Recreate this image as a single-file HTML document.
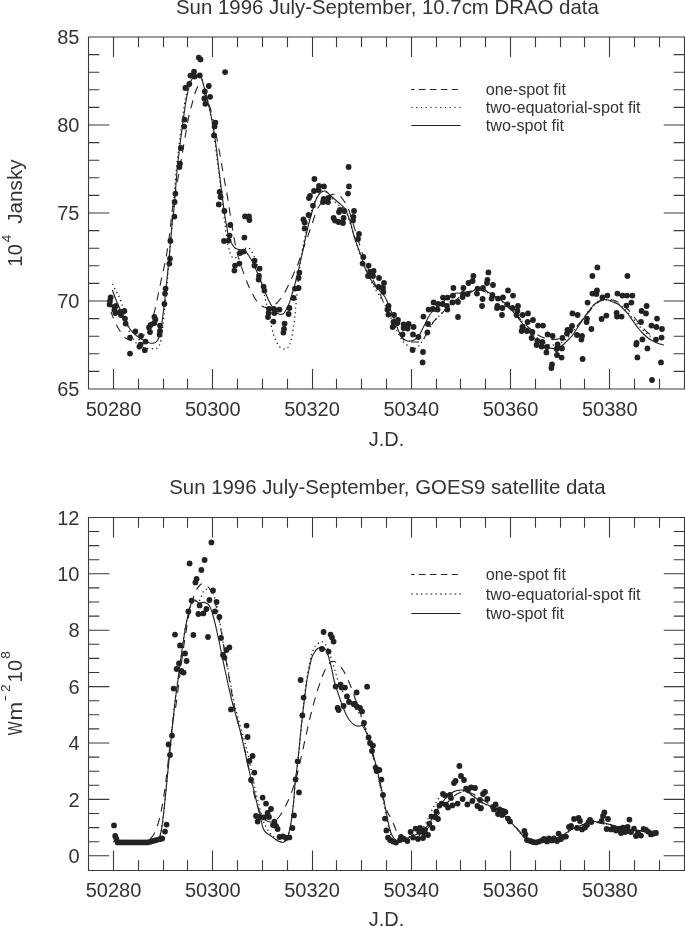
<!DOCTYPE html>
<html><head><meta charset="utf-8"><title>Sun 1996</title>
<style>
html,body{margin:0;padding:0;background:#fff}
#c{position:relative;width:685px;height:926px;overflow:hidden;background:#fff;font-family:"Liberation Sans",sans-serif;color:#333;filter:grayscale(1)}
</style></head><body><div id="c">
<svg width="685" height="926" viewBox="0 0 685 926" style="position:absolute;left:0;top:0">
<g stroke="#3a3a3a" stroke-width="1.1" fill="none" shape-rendering="auto">
<path d="M88.5 37.0H684.5V389.0H88.5Z"/>
<path d="M113.5 37.0v20.0M113.5 389.0v-20.0"/>
<path d="M138.5 37.0v10.2M138.5 389.0v-10.2"/>
<path d="M163.5 37.0v10.2M163.5 389.0v-10.2"/>
<path d="M187.5 37.0v10.2M187.5 389.0v-10.2"/>
<path d="M212.5 37.0v20.0M212.5 389.0v-20.0"/>
<path d="M237.5 37.0v10.2M237.5 389.0v-10.2"/>
<path d="M262.5 37.0v10.2M262.5 389.0v-10.2"/>
<path d="M287.5 37.0v10.2M287.5 389.0v-10.2"/>
<path d="M312.5 37.0v20.0M312.5 389.0v-20.0"/>
<path d="M336.5 37.0v10.2M336.5 389.0v-10.2"/>
<path d="M361.5 37.0v10.2M361.5 389.0v-10.2"/>
<path d="M386.5 37.0v10.2M386.5 389.0v-10.2"/>
<path d="M411.5 37.0v20.0M411.5 389.0v-20.0"/>
<path d="M436.5 37.0v10.2M436.5 389.0v-10.2"/>
<path d="M460.5 37.0v10.2M460.5 389.0v-10.2"/>
<path d="M485.5 37.0v10.2M485.5 389.0v-10.2"/>
<path d="M510.5 37.0v20.0M510.5 389.0v-20.0"/>
<path d="M535.5 37.0v10.2M535.5 389.0v-10.2"/>
<path d="M560.5 37.0v10.2M560.5 389.0v-10.2"/>
<path d="M584.5 37.0v10.2M584.5 389.0v-10.2"/>
<path d="M609.5 37.0v20.0M609.5 389.0v-20.0"/>
<path d="M634.5 37.0v10.2M634.5 389.0v-10.2"/>
<path d="M659.5 37.0v10.2M659.5 389.0v-10.2"/>
<path d="M88.5 371.4h10.8M684.5 371.4h-10.8"/>
<path d="M88.5 353.8h10.8M684.5 353.8h-10.8"/>
<path d="M88.5 336.2h10.8M684.5 336.2h-10.8"/>
<path d="M88.5 318.6h10.8M684.5 318.6h-10.8"/>
<path d="M88.5 283.4h10.8M684.5 283.4h-10.8"/>
<path d="M88.5 265.8h10.8M684.5 265.8h-10.8"/>
<path d="M88.5 248.2h10.8M684.5 248.2h-10.8"/>
<path d="M88.5 230.6h10.8M684.5 230.6h-10.8"/>
<path d="M88.5 195.4h10.8M684.5 195.4h-10.8"/>
<path d="M88.5 177.8h10.8M684.5 177.8h-10.8"/>
<path d="M88.5 160.2h10.8M684.5 160.2h-10.8"/>
<path d="M88.5 142.6h10.8M684.5 142.6h-10.8"/>
<path d="M88.5 107.4h10.8M684.5 107.4h-10.8"/>
<path d="M88.5 89.8h10.8M684.5 89.8h-10.8"/>
<path d="M88.5 72.2h10.8M684.5 72.2h-10.8"/>
<path d="M88.5 54.6h10.8M684.5 54.6h-10.8"/>
<path d="M88.5 301.0h20.8M684.5 301.0h-20.8"/>
<path d="M88.5 213.0h20.8M684.5 213.0h-20.8"/>
<path d="M88.5 125.0h20.8M684.5 125.0h-20.8"/>
</g>
<g stroke="#3a3a3a" stroke-width="1.1" fill="none" shape-rendering="auto">
<path d="M88.5 517.5H684.5V870.5H88.5Z"/>
<path d="M113.5 517.5v20.0M113.5 870.5v-20.0"/>
<path d="M138.5 517.5v10.2M138.5 870.5v-10.2"/>
<path d="M163.5 517.5v10.2M163.5 870.5v-10.2"/>
<path d="M187.5 517.5v10.2M187.5 870.5v-10.2"/>
<path d="M212.5 517.5v20.0M212.5 870.5v-20.0"/>
<path d="M237.5 517.5v10.2M237.5 870.5v-10.2"/>
<path d="M262.5 517.5v10.2M262.5 870.5v-10.2"/>
<path d="M287.5 517.5v10.2M287.5 870.5v-10.2"/>
<path d="M312.5 517.5v20.0M312.5 870.5v-20.0"/>
<path d="M336.5 517.5v10.2M336.5 870.5v-10.2"/>
<path d="M361.5 517.5v10.2M361.5 870.5v-10.2"/>
<path d="M386.5 517.5v10.2M386.5 870.5v-10.2"/>
<path d="M411.5 517.5v20.0M411.5 870.5v-20.0"/>
<path d="M436.5 517.5v10.2M436.5 870.5v-10.2"/>
<path d="M460.5 517.5v10.2M460.5 870.5v-10.2"/>
<path d="M485.5 517.5v10.2M485.5 870.5v-10.2"/>
<path d="M510.5 517.5v20.0M510.5 870.5v-20.0"/>
<path d="M535.5 517.5v10.2M535.5 870.5v-10.2"/>
<path d="M560.5 517.5v10.2M560.5 870.5v-10.2"/>
<path d="M584.5 517.5v10.2M584.5 870.5v-10.2"/>
<path d="M609.5 517.5v20.0M609.5 870.5v-20.0"/>
<path d="M634.5 517.5v10.2M634.5 870.5v-10.2"/>
<path d="M659.5 517.5v10.2M659.5 870.5v-10.2"/>
<path d="M88.5 841.7h10.8M684.5 841.7h-10.8"/>
<path d="M88.5 827.6h10.8M684.5 827.6h-10.8"/>
<path d="M88.5 813.5h10.8M684.5 813.5h-10.8"/>
<path d="M88.5 785.3h10.8M684.5 785.3h-10.8"/>
<path d="M88.5 771.2h10.8M684.5 771.2h-10.8"/>
<path d="M88.5 757.1h10.8M684.5 757.1h-10.8"/>
<path d="M88.5 728.9h10.8M684.5 728.9h-10.8"/>
<path d="M88.5 714.8h10.8M684.5 714.8h-10.8"/>
<path d="M88.5 700.7h10.8M684.5 700.7h-10.8"/>
<path d="M88.5 672.5h10.8M684.5 672.5h-10.8"/>
<path d="M88.5 658.4h10.8M684.5 658.4h-10.8"/>
<path d="M88.5 644.3h10.8M684.5 644.3h-10.8"/>
<path d="M88.5 616.1h10.8M684.5 616.1h-10.8"/>
<path d="M88.5 602.0h10.8M684.5 602.0h-10.8"/>
<path d="M88.5 587.9h10.8M684.5 587.9h-10.8"/>
<path d="M88.5 559.7h10.8M684.5 559.7h-10.8"/>
<path d="M88.5 545.6h10.8M684.5 545.6h-10.8"/>
<path d="M88.5 531.5h10.8M684.5 531.5h-10.8"/>
<path d="M88.5 855.8h20.8M684.5 855.8h-20.8"/>
<path d="M88.5 799.4h20.8M684.5 799.4h-20.8"/>
<path d="M88.5 743.0h20.8M684.5 743.0h-20.8"/>
<path d="M88.5 686.6h20.8M684.5 686.6h-20.8"/>
<path d="M88.5 630.2h20.8M684.5 630.2h-20.8"/>
<path d="M88.5 573.8h20.8M684.5 573.8h-20.8"/>
</g>
<g fill="none" stroke="#222" stroke-width="1.1" stroke-linecap="butt">
<path d="M112.4 284.0C113.0 285.2 114.7 288.5 116.0 291.0C117.3 293.5 118.7 295.7 120.0 299.0C121.3 302.3 122.8 307.2 124.0 311.0C125.2 314.8 126.0 318.3 127.0 322.0C128.0 325.7 128.8 330.0 130.0 333.0C131.2 336.0 132.7 338.0 134.0 340.0C135.3 342.0 136.5 343.8 138.0 345.0C139.5 346.2 141.0 346.9 143.0 347.5C145.0 348.1 147.8 348.4 150.0 348.6C152.2 348.8 154.5 348.9 156.0 348.5C157.5 348.1 158.2 347.4 159.0 346.0C159.8 344.6 160.3 343.5 161.0 340.0C161.7 336.5 162.3 330.8 163.0 325.0C163.7 319.2 164.3 311.7 165.0 305.0C165.7 298.3 166.3 292.2 167.0 285.0C167.7 277.8 168.3 269.8 169.0 262.0C169.7 254.2 170.3 246.3 171.0 238.0C171.7 229.7 172.1 223.7 173.0 212.0C173.9 200.3 175.1 182.3 176.5 168.0C177.9 153.7 180.0 137.7 181.5 126.0C183.0 114.3 184.3 105.0 185.6 98.0C186.8 91.0 187.8 87.5 189.0 84.0C190.2 80.5 191.3 78.5 192.5 77.0C193.7 75.5 194.8 75.2 196.0 75.0C197.2 74.8 198.8 74.7 200.0 76.0C201.2 77.3 202.0 79.8 203.0 83.0C204.0 86.2 204.5 88.5 206.0 95.0C207.5 101.5 210.0 110.2 212.0 122.0C214.0 133.8 216.3 153.3 218.0 166.0C219.7 178.7 220.8 188.3 222.0 198.0C223.2 207.7 224.0 216.2 225.0 224.0C226.0 231.8 226.8 239.5 228.0 245.0C229.2 250.5 230.7 254.9 232.0 257.0C233.3 259.1 234.7 258.2 236.0 257.5C237.3 256.8 238.7 254.4 240.0 253.0C241.3 251.6 242.7 249.8 244.0 249.0C245.3 248.2 246.8 247.8 248.0 248.0C249.2 248.2 250.0 248.7 251.0 250.0C252.0 251.3 253.0 253.7 254.0 256.0C255.0 258.3 256.0 260.7 257.0 264.0C258.0 267.3 259.0 272.0 260.0 276.0C261.0 280.0 262.0 283.7 263.0 288.0C264.0 292.3 264.8 296.7 266.0 302.0C267.2 307.3 268.7 314.3 270.0 320.0C271.3 325.7 272.5 331.7 274.0 336.0C275.5 340.3 277.2 343.8 279.0 346.0C280.8 348.2 283.2 349.3 285.0 349.0C286.8 348.7 288.5 348.2 290.0 344.0C291.5 339.8 293.0 330.7 294.0 324.0C295.0 317.3 295.3 311.0 296.0 304.0C296.7 297.0 297.2 289.7 298.0 282.0C298.8 274.3 300.0 264.7 301.0 258.0C302.0 251.3 303.0 247.0 304.0 242.0C305.0 237.0 305.5 234.0 307.0 228.0C308.5 222.0 311.0 211.7 313.0 206.0C315.0 200.3 317.2 196.5 319.0 194.0C320.8 191.5 322.3 190.8 324.0 191.0C325.7 191.2 326.8 192.8 329.0 195.0C331.2 197.2 334.3 201.5 337.0 204.0C339.7 206.5 342.7 206.3 345.0 210.0C347.3 213.7 349.0 220.0 351.0 226.0C353.0 232.0 355.2 240.3 357.0 246.0C358.8 251.7 360.3 255.7 362.0 260.0C363.7 264.3 365.3 268.2 367.0 272.0C368.7 275.8 370.3 279.7 372.0 283.0C373.7 286.3 375.3 289.2 377.0 292.0C378.7 294.8 380.3 297.2 382.0 300.0C383.7 302.8 385.3 305.7 387.0 309.0C388.7 312.3 390.3 316.3 392.0 320.0C393.7 323.7 395.3 327.7 397.0 331.0C398.7 334.3 400.3 337.7 402.0 340.0C403.7 342.3 405.3 343.7 407.0 345.0C408.7 346.3 410.5 347.5 412.0 348.0C413.5 348.5 414.7 348.6 416.0 348.0C417.3 347.4 418.7 346.1 420.0 344.5C421.3 342.9 422.7 340.7 424.0 338.5C425.3 336.3 426.7 333.9 428.0 331.5C429.3 329.1 430.7 326.1 432.0 324.0C433.3 321.9 434.7 320.5 436.0 319.0C437.3 317.5 438.5 316.5 440.0 315.0C441.5 313.5 443.3 311.7 445.0 310.0C446.7 308.3 448.3 306.6 450.0 305.0C451.7 303.4 453.3 301.8 455.0 300.5C456.7 299.2 458.3 298.1 460.0 297.0C461.7 295.9 463.3 294.8 465.0 294.0C466.7 293.2 468.3 292.7 470.0 292.0C471.7 291.3 473.3 290.3 475.0 290.0C476.7 289.7 478.3 289.8 480.0 290.0C481.7 290.2 483.3 290.8 485.0 291.5C486.7 292.2 488.3 293.1 490.0 294.0C491.7 294.9 493.3 296.0 495.0 297.0C496.7 298.0 498.3 298.8 500.0 300.0C501.7 301.2 503.3 302.7 505.0 304.0C506.7 305.3 508.3 306.5 510.0 308.0C511.7 309.5 513.3 311.2 515.0 313.0C516.7 314.8 518.3 317.0 520.0 319.0C521.7 321.0 523.3 323.0 525.0 325.0C526.7 327.0 528.3 329.2 530.0 331.0C531.7 332.8 533.3 334.5 535.0 336.0C536.7 337.5 538.3 338.8 540.0 340.0C541.7 341.2 543.3 342.2 545.0 343.0C546.7 343.8 548.3 344.7 550.0 345.0C551.7 345.3 553.3 345.2 555.0 345.0C556.7 344.8 558.3 344.3 560.0 343.5C561.7 342.7 563.3 341.4 565.0 340.0C566.7 338.6 568.3 336.8 570.0 335.0C571.7 333.2 573.3 331.0 575.0 329.0C576.7 327.0 578.3 325.2 580.0 323.0C581.7 320.8 583.3 318.3 585.0 316.0C586.7 313.7 588.3 311.0 590.0 309.0C591.7 307.0 593.3 305.3 595.0 304.0C596.7 302.7 598.3 301.7 600.0 301.0C601.7 300.3 603.3 300.1 605.0 300.0C606.7 299.9 608.3 300.2 610.0 300.5C611.7 300.8 613.3 301.2 615.0 302.0C616.7 302.8 618.3 303.8 620.0 305.0C621.7 306.2 623.3 307.3 625.0 309.0C626.7 310.7 628.3 313.0 630.0 315.0C631.7 317.0 633.3 319.0 635.0 321.0C636.7 323.0 638.3 325.2 640.0 327.0C641.7 328.8 643.3 330.5 645.0 332.0C646.7 333.5 648.3 334.8 650.0 336.0C651.7 337.2 654.2 338.5 655.0 339.0" stroke-dasharray="1.3 3.2" stroke-width="1.25"/>
<path class="dash" d="M111.0 312.0C111.7 313.7 113.5 318.8 115.0 322.0C116.5 325.2 118.3 328.4 120.0 331.0C121.7 333.6 123.3 336.1 125.0 337.6C126.7 339.1 128.3 339.6 130.0 340.2C131.7 340.8 133.3 341.2 135.0 341.0C136.7 340.8 138.3 340.2 140.0 339.0C141.7 337.8 143.3 336.2 145.0 334.0C146.7 331.8 148.7 328.8 150.0 326.0C151.3 323.2 152.0 320.5 153.0 317.0C154.0 313.5 155.1 309.0 156.0 305.0C156.9 301.0 157.7 297.0 158.5 293.0C159.3 289.0 160.2 284.8 161.0 281.0C161.8 277.2 162.7 273.8 163.5 270.0C164.3 266.2 165.2 262.2 166.0 258.0C166.8 253.8 167.3 249.5 168.0 245.0C168.7 240.5 169.2 237.7 170.0 231.0C170.8 224.3 171.4 215.2 173.0 205.0C174.6 194.8 177.6 180.6 179.5 170.0C181.4 159.4 182.8 150.3 184.3 141.7C185.8 133.1 187.1 124.6 188.4 118.4C189.7 112.2 190.8 108.5 191.9 104.4C193.0 100.3 193.8 96.9 194.8 93.9C195.8 90.9 197.0 87.4 198.0 86.5C199.0 85.6 199.8 87.1 201.0 88.5C202.2 89.9 203.8 92.8 205.0 95.0C206.2 97.2 207.0 99.3 208.0 102.0C209.0 104.7 209.9 106.7 211.1 111.4C212.3 116.1 213.8 123.4 215.2 130.0C216.6 136.6 218.2 145.3 219.3 151.0C220.4 156.7 220.8 159.5 221.6 164.0C222.4 168.5 222.9 172.0 224.0 178.0C225.1 184.0 226.7 192.0 228.0 200.0C229.3 208.0 230.7 218.0 232.0 226.0C233.3 234.0 234.7 241.9 236.0 248.0C237.3 254.1 238.7 258.2 240.0 262.5C241.3 266.8 242.7 270.3 244.0 274.0C245.3 277.7 246.7 281.3 248.0 284.5C249.3 287.7 250.7 290.4 252.0 293.0C253.3 295.6 254.7 298.1 256.0 300.0C257.3 301.9 258.7 303.3 260.0 304.5C261.3 305.7 262.7 306.5 264.0 307.0C265.3 307.5 266.7 307.7 268.0 307.5C269.3 307.3 270.5 306.8 272.0 306.0C273.5 305.2 275.5 304.3 277.0 303.0C278.5 301.7 279.7 299.8 281.0 298.0C282.3 296.2 283.5 294.7 285.0 292.0C286.5 289.3 288.4 285.3 290.0 282.0C291.6 278.7 293.1 275.0 294.4 272.0C295.7 269.0 296.7 267.3 298.0 264.0C299.3 260.7 300.5 256.2 302.0 252.0C303.5 247.8 305.3 243.2 307.0 238.5C308.7 233.8 310.3 228.8 312.0 224.0C313.7 219.2 315.3 213.7 317.0 210.0C318.7 206.3 320.3 204.2 322.0 202.0C323.7 199.8 325.3 198.2 327.0 197.0C328.7 195.8 330.5 195.0 332.0 194.5C333.5 194.0 334.7 193.8 336.0 194.0C337.3 194.2 338.7 194.8 340.0 196.0C341.3 197.2 342.7 199.0 344.0 201.0C345.3 203.0 346.7 204.8 348.0 208.0C349.3 211.2 350.7 215.8 352.0 220.0C353.3 224.2 354.7 228.7 356.0 233.0C357.3 237.3 358.5 241.3 360.0 246.0C361.5 250.7 363.3 256.5 365.0 261.0C366.7 265.5 368.3 269.2 370.0 273.0C371.7 276.8 373.3 280.5 375.0 284.0C376.7 287.5 378.7 291.2 380.0 294.0C381.3 296.8 382.0 298.9 383.0 301.0C384.0 303.1 384.6 304.0 385.8 306.5C387.0 309.0 388.5 312.8 390.0 316.0C391.5 319.2 393.3 322.8 395.0 326.0C396.7 329.2 398.5 332.7 400.0 335.0C401.5 337.3 402.7 338.9 404.0 340.0C405.3 341.1 406.7 341.3 408.0 341.6C409.3 341.9 410.7 341.9 412.0 342.0C413.3 342.1 414.8 342.0 416.0 342.0C417.2 342.0 418.1 342.2 419.0 342.0C419.9 341.8 420.6 341.9 421.6 341.0C422.6 340.1 423.9 338.1 425.0 336.5C426.1 334.9 426.8 333.7 428.2 331.3C429.6 328.9 431.6 324.4 433.3 322.0C435.0 319.6 436.6 318.6 438.4 316.7C440.2 314.8 442.0 313.1 444.2 310.9C446.4 308.7 449.1 305.8 451.5 303.6C453.9 301.4 456.9 299.2 458.8 297.7C460.7 296.2 461.5 295.4 463.0 294.5C464.5 293.6 466.3 292.7 468.0 292.0C469.7 291.3 471.3 290.8 473.0 290.5C474.7 290.2 476.3 289.9 478.0 290.0C479.7 290.1 481.3 290.5 483.0 291.0C484.7 291.5 486.3 292.2 488.0 293.0C489.7 293.8 491.3 295.0 493.0 296.0C494.7 297.0 496.3 297.8 498.0 299.0C499.7 300.2 501.3 301.7 503.0 303.0C504.7 304.3 506.3 305.5 508.0 307.0C509.7 308.5 511.3 310.3 513.0 312.0C514.7 313.7 516.3 315.3 518.0 317.0C519.7 318.7 521.3 320.3 523.0 322.0C524.7 323.7 526.3 325.5 528.0 327.0C529.7 328.5 531.3 329.7 533.0 331.0C534.7 332.3 536.3 333.9 538.0 335.0C539.7 336.1 541.3 336.8 543.0 337.5C544.7 338.2 546.3 338.7 548.0 339.0C549.7 339.3 551.3 339.5 553.0 339.5C554.7 339.5 556.3 339.4 558.0 339.0C559.7 338.6 561.3 337.8 563.0 337.0C564.7 336.2 566.3 335.2 568.0 334.0C569.7 332.8 571.3 331.5 573.0 330.0C574.7 328.5 576.3 326.8 578.0 325.0C579.7 323.2 581.3 321.0 583.0 319.0C584.7 317.0 586.3 315.0 588.0 313.0C589.7 311.0 591.3 308.8 593.0 307.0C594.7 305.2 596.3 303.7 598.0 302.5C599.7 301.3 601.3 300.6 603.0 300.0C604.7 299.4 606.3 299.0 608.0 299.0C609.7 299.0 611.3 299.5 613.0 300.0C614.7 300.5 616.3 301.2 618.0 302.0C619.7 302.8 621.3 303.8 623.0 305.0C624.7 306.2 626.3 307.8 628.0 309.5C629.7 311.2 631.3 313.4 633.0 315.5C634.7 317.6 636.3 319.9 638.0 322.0C639.7 324.1 641.3 326.2 643.0 328.0C644.7 329.8 646.3 331.7 648.0 333.0C649.7 334.3 652.2 335.5 653.0 336.0" stroke-dasharray="8.2 6.8" stroke-dashoffset="1.35"/>
<path d="M112.4 290.0C113.0 291.7 114.7 296.8 116.0 300.0C117.3 303.2 118.5 305.7 120.0 309.0C121.5 312.3 123.3 316.7 125.0 320.0C126.7 323.3 128.3 326.6 130.0 329.0C131.7 331.4 133.3 333.0 135.0 334.5C136.7 336.0 138.3 336.9 140.0 338.0C141.7 339.1 143.3 340.2 145.0 341.0C146.7 341.8 148.5 342.7 150.0 343.0C151.5 343.3 152.8 343.3 154.0 343.0C155.2 342.7 156.2 342.0 157.0 341.0C157.8 340.0 158.3 339.2 159.0 337.0C159.7 334.8 160.3 331.7 161.0 328.0C161.7 324.3 162.2 321.5 163.0 315.0C163.8 308.5 165.0 298.3 166.0 289.0C167.0 279.7 168.0 269.7 169.0 259.0C170.0 248.3 171.1 234.0 172.0 225.0C172.9 216.0 173.5 214.5 174.4 205.0C175.3 195.5 176.0 181.3 177.3 168.0C178.7 154.7 180.9 137.2 182.5 125.4C184.1 113.6 185.3 104.4 186.6 97.4C187.9 90.4 189.0 86.7 190.1 83.4C191.2 80.1 191.9 78.9 193.0 77.5C194.1 76.1 195.5 75.6 196.5 75.2C197.5 74.8 198.2 74.9 199.0 75.2C199.8 75.5 200.2 74.5 201.2 76.8C202.1 79.1 203.4 84.4 204.7 89.2C206.0 94.0 207.4 99.5 208.8 105.5C210.2 111.5 211.7 119.0 212.9 125.4C214.1 131.8 214.8 136.9 215.8 144.0C216.8 151.1 217.3 157.0 218.7 168.0C220.1 179.0 222.6 200.0 224.0 210.0C225.4 220.0 226.2 223.3 227.0 228.0C227.8 232.7 228.2 235.3 229.0 238.0C229.8 240.7 231.0 242.3 232.0 244.0C233.0 245.7 233.8 247.1 235.0 248.0C236.2 248.9 237.7 249.2 239.0 249.5C240.3 249.8 241.8 249.6 243.0 250.0C244.2 250.4 245.0 251.0 246.0 252.0C247.0 253.0 247.8 254.2 249.0 256.0C250.2 257.8 251.7 260.3 253.0 263.0C254.3 265.7 255.7 268.8 257.0 272.0C258.3 275.2 259.7 278.7 261.0 282.0C262.3 285.3 263.7 288.8 265.0 292.0C266.3 295.2 267.7 298.3 269.0 301.0C270.3 303.7 271.8 306.2 273.0 308.0C274.2 309.8 275.0 311.0 276.0 312.0C277.0 313.0 277.8 313.7 279.0 314.0C280.2 314.3 281.8 314.7 283.0 314.0C284.2 313.3 285.0 311.7 286.0 310.0C287.0 308.3 288.0 306.7 289.0 304.0C290.0 301.3 290.9 297.7 292.0 294.0C293.1 290.3 293.9 288.3 295.5 282.0C297.1 275.7 299.7 265.0 301.7 256.0C303.7 247.0 305.7 236.3 307.7 228.0C309.7 219.7 312.3 211.0 313.8 206.0C315.3 201.0 315.8 200.1 316.8 198.0C317.8 195.9 318.9 194.6 319.8 193.5C320.8 192.4 321.6 191.9 322.5 191.5C323.4 191.1 324.2 190.9 325.0 191.0C325.8 191.1 326.2 191.3 327.0 192.0C327.8 192.7 328.8 193.8 330.0 195.0C331.2 196.2 332.9 197.7 334.4 199.0C335.9 200.3 337.4 201.6 339.0 203.0C340.6 204.4 342.5 205.9 343.7 207.2C344.9 208.5 345.2 209.4 346.0 211.0C346.8 212.6 347.6 214.3 348.4 216.6C349.2 218.8 350.1 221.3 351.0 224.5C351.9 227.7 353.0 232.6 354.0 236.0C355.0 239.4 355.7 241.3 357.0 245.0C358.3 248.7 360.7 254.2 362.0 258.0C363.3 261.8 363.7 264.7 365.0 268.0C366.3 271.3 368.3 275.0 370.0 278.0C371.7 281.0 373.3 283.8 375.0 286.0C376.7 288.2 378.3 289.2 380.0 291.0C381.7 292.8 383.5 294.5 385.0 297.0C386.5 299.5 387.7 302.8 389.0 306.0C390.3 309.2 391.8 313.0 393.0 316.0C394.2 319.0 395.0 321.3 396.0 324.0C397.0 326.7 398.0 329.8 399.0 332.0C400.0 334.2 401.0 335.7 402.0 337.0C403.0 338.3 404.0 339.3 405.0 340.0C406.0 340.7 407.0 340.8 408.0 341.0C409.0 341.2 410.0 341.2 411.0 341.0C412.0 340.8 413.0 340.5 414.0 340.0C415.0 339.5 416.0 339.0 417.0 338.0C418.0 337.0 419.0 335.7 420.0 334.0C421.0 332.3 422.0 330.0 423.0 328.0C424.0 326.0 425.0 324.0 426.0 322.0C427.0 320.0 428.0 317.7 429.0 316.0C430.0 314.3 431.0 313.2 432.0 312.0C433.0 310.8 433.8 310.2 435.0 309.0C436.2 307.8 437.7 306.2 439.0 305.0C440.3 303.8 441.7 303.2 443.0 302.0C444.3 300.8 445.7 299.2 447.0 298.0C448.3 296.8 449.8 295.7 451.0 295.0C452.2 294.3 453.0 294.3 454.0 294.0C455.0 293.7 455.8 293.1 457.0 293.0C458.2 292.9 459.7 293.3 461.0 293.5C462.3 293.7 463.7 294.1 465.0 294.0C466.3 293.9 467.7 293.5 469.0 293.0C470.3 292.5 471.8 291.7 473.0 291.0C474.2 290.3 475.0 289.6 476.0 289.0C477.0 288.4 478.0 287.7 479.0 287.5C480.0 287.3 481.0 287.6 482.0 288.0C483.0 288.4 484.0 289.3 485.0 290.0C486.0 290.7 486.8 291.2 488.0 292.0C489.2 292.8 490.5 293.5 492.0 294.5C493.5 295.5 495.3 296.9 497.0 298.0C498.7 299.1 500.5 300.0 502.0 301.0C503.5 302.0 504.7 302.8 506.0 304.0C507.3 305.2 508.7 306.5 510.0 308.0C511.3 309.5 512.7 311.3 514.0 313.0C515.3 314.7 516.7 316.3 518.0 318.0C519.3 319.7 520.7 321.3 522.0 323.0C523.3 324.7 524.7 326.3 526.0 328.0C527.3 329.7 528.7 331.3 530.0 333.0C531.3 334.7 532.7 336.6 534.0 338.0C535.3 339.4 536.7 340.5 538.0 341.5C539.3 342.5 540.7 343.2 542.0 344.0C543.3 344.8 544.7 345.8 546.0 346.5C547.3 347.2 548.7 347.7 550.0 348.0C551.3 348.3 552.7 348.5 554.0 348.5C555.3 348.5 556.8 348.3 558.0 348.0C559.2 347.7 560.0 347.2 561.0 346.5C562.0 345.8 562.8 345.1 564.0 344.0C565.2 342.9 566.7 341.3 568.0 340.0C569.3 338.7 570.7 337.7 572.0 336.0C573.3 334.3 574.7 332.0 576.0 330.0C577.3 328.0 578.7 326.0 580.0 324.0C581.3 322.0 582.7 320.0 584.0 318.0C585.3 316.0 586.7 313.8 588.0 312.0C589.3 310.2 590.7 308.5 592.0 307.0C593.3 305.5 594.8 304.0 596.0 303.0C597.2 302.0 598.0 301.5 599.0 301.0C600.0 300.5 601.0 300.2 602.0 300.0C603.0 299.8 604.0 299.5 605.0 299.5C606.0 299.5 606.7 299.6 608.0 300.0C609.3 300.4 611.3 301.3 613.0 302.0C614.7 302.7 616.3 302.9 618.0 304.0C619.7 305.1 621.3 306.8 623.0 308.5C624.7 310.2 626.3 311.9 628.0 314.0C629.7 316.1 631.3 318.7 633.0 321.0C634.7 323.3 636.3 325.9 638.0 328.0C639.7 330.1 641.3 331.8 643.0 333.5C644.7 335.2 646.5 336.8 648.0 338.0C649.5 339.2 650.7 339.8 652.0 340.5C653.3 341.2 654.7 341.8 656.0 342.4C657.3 343.0 658.7 343.6 660.0 344.0C661.3 344.4 663.3 344.8 664.0 345.0"/>
</g>
<g fill="none" stroke="#222" stroke-width="1.1" stroke-linecap="butt">
<path d="M113.5 841.5C119.6 841.5 142.8 841.8 150.0 841.5C157.2 841.2 155.3 840.9 157.0 840.0C158.7 839.1 159.2 838.3 160.0 836.0C160.8 833.7 161.3 830.5 162.0 826.0C162.7 821.5 163.0 818.5 164.0 809.0C165.0 799.5 166.7 782.3 168.0 769.0C169.3 755.7 170.8 740.3 172.0 729.0C173.2 717.7 174.0 709.3 175.0 701.0C176.0 692.7 176.8 687.7 178.0 679.0C179.2 670.3 180.5 659.0 182.0 649.0C183.5 639.0 185.3 626.7 187.0 619.0C188.7 611.3 190.5 606.0 192.0 603.0C193.5 600.0 194.7 601.5 196.0 601.0C197.3 600.5 198.8 601.5 200.0 600.0C201.2 598.5 202.0 593.8 203.0 592.0C204.0 590.2 205.0 590.0 206.0 589.5C207.0 589.0 208.0 588.6 209.0 589.0C210.0 589.4 211.2 590.8 212.0 592.0C212.8 593.2 213.2 593.7 214.0 596.0C214.8 598.3 216.2 602.3 217.0 606.0C217.8 609.7 218.2 613.3 219.0 618.0C219.8 622.7 221.2 629.0 222.0 634.0C222.8 639.0 223.2 643.0 224.0 648.0C224.8 653.0 226.0 658.7 227.0 664.0C228.0 669.3 228.8 673.7 230.0 680.0C231.2 686.3 232.3 694.5 234.0 702.0C235.7 709.5 237.8 717.0 240.0 725.0C242.2 733.0 245.2 742.7 247.0 750.0C248.8 757.3 249.7 762.7 251.0 769.0C252.3 775.3 253.7 782.0 255.0 788.0C256.3 794.0 257.7 799.7 259.0 805.0C260.3 810.3 261.8 816.3 263.0 820.0C264.2 823.7 264.8 824.8 266.0 827.0C267.2 829.2 268.7 831.3 270.0 833.0C271.3 834.7 272.8 835.8 274.0 837.0C275.2 838.2 275.8 839.2 277.0 840.0C278.2 840.8 279.8 841.7 281.0 842.0C282.2 842.3 283.2 842.3 284.0 842.0C284.8 841.7 285.3 841.0 286.0 840.0C286.7 839.0 287.3 838.0 288.0 836.0C288.7 834.0 289.3 831.3 290.0 828.0C290.7 824.7 291.3 821.0 292.0 816.0C292.7 811.0 293.5 803.3 294.0 798.0C294.5 792.7 294.5 789.0 295.0 784.0C295.5 779.0 296.3 773.7 297.0 768.0C297.7 762.3 298.2 758.3 299.0 750.0C299.8 741.7 301.0 727.7 302.0 718.0C303.0 708.3 304.2 698.8 305.0 692.0C305.8 685.2 306.2 682.2 307.0 677.0C307.8 671.8 309.2 665.0 310.0 661.0C310.8 657.0 311.2 655.4 312.0 653.0C312.8 650.6 314.0 648.1 315.0 646.5C316.0 644.9 317.0 644.2 318.0 643.5C319.0 642.8 320.2 642.2 321.0 642.0C321.8 641.8 322.2 641.5 323.0 642.0C323.8 642.5 325.0 643.3 326.0 645.0C327.0 646.7 327.8 648.8 329.0 652.0C330.2 655.2 331.8 660.3 333.0 664.0C334.2 667.7 335.0 670.7 336.0 674.0C337.0 677.3 337.8 681.0 339.0 684.0C340.2 687.0 341.7 689.7 343.0 692.0C344.3 694.3 345.7 696.2 347.0 698.0C348.3 699.8 349.7 701.3 351.0 703.0C352.3 704.7 353.7 706.2 355.0 708.0C356.3 709.8 357.8 711.8 359.0 713.5C360.2 715.2 361.0 715.9 362.0 718.0C363.0 720.1 364.0 723.0 365.0 726.0C366.0 729.0 367.0 732.5 368.0 736.0C369.0 739.5 370.0 743.2 371.0 747.0C372.0 750.8 373.0 755.0 374.0 759.0C375.0 763.0 376.2 767.5 377.0 771.0C377.8 774.5 378.3 777.0 379.0 780.0C379.7 783.0 380.3 785.8 381.0 789.0C381.7 792.2 382.3 795.5 383.0 799.0C383.7 802.5 384.3 806.5 385.0 810.0C385.7 813.5 386.3 816.8 387.0 820.0C387.7 823.2 388.3 826.5 389.0 829.0C389.7 831.5 390.2 833.2 391.0 835.0C391.8 836.8 393.0 838.5 394.0 839.5C395.0 840.5 395.8 840.9 397.0 841.0C398.2 841.1 399.7 840.4 401.0 840.0C402.3 839.6 403.5 839.1 405.0 838.5C406.5 837.9 408.3 837.3 410.0 836.5C411.7 835.7 413.5 834.4 415.0 833.5C416.5 832.6 417.7 831.9 419.0 831.0C420.3 830.1 421.7 829.7 423.0 828.0C424.3 826.3 425.7 823.7 427.0 821.0C428.3 818.3 429.7 814.8 431.0 812.0C432.3 809.2 433.7 806.8 435.0 804.5C436.3 802.2 437.7 799.6 439.0 798.0C440.3 796.4 441.7 795.8 443.0 795.0C444.3 794.2 445.5 794.0 447.0 793.5C448.5 793.0 450.3 792.4 452.0 792.0C453.7 791.6 455.5 791.2 457.0 791.0C458.5 790.8 459.7 790.4 461.0 790.5C462.3 790.6 463.7 791.0 465.0 791.5C466.3 792.0 467.7 792.7 469.0 793.5C470.3 794.3 471.7 795.5 473.0 796.5C474.3 797.5 475.7 798.5 477.0 799.5C478.3 800.5 479.7 801.7 481.0 802.5C482.3 803.3 483.8 804.0 485.0 804.5C486.2 805.0 486.7 804.9 488.0 805.5C489.3 806.1 491.3 807.2 493.0 808.0C494.7 808.8 496.3 809.4 498.0 810.5C499.7 811.6 501.3 813.0 503.0 814.5C504.7 816.0 506.3 817.8 508.0 819.5C509.7 821.2 511.3 823.2 513.0 825.0C514.7 826.8 516.5 828.8 518.0 830.5C519.5 832.2 520.7 834.0 522.0 835.5C523.3 837.0 524.7 838.5 526.0 839.5C527.3 840.5 528.3 841.0 530.0 841.5C531.7 842.0 534.0 842.3 536.0 842.5C538.0 842.7 540.0 842.7 542.0 842.5C544.0 842.3 546.2 841.8 548.0 841.5C549.8 841.2 551.3 841.0 553.0 840.5C554.7 840.0 556.5 839.2 558.0 838.5C559.5 837.8 560.7 837.3 562.0 836.5C563.3 835.7 564.7 834.4 566.0 833.5C567.3 832.6 568.7 831.8 570.0 831.0C571.3 830.2 572.7 829.2 574.0 828.5C575.3 827.8 576.7 827.5 578.0 827.0C579.3 826.5 580.7 826.0 582.0 825.5C583.3 825.0 584.7 824.5 586.0 824.0C587.3 823.5 588.5 822.8 590.0 822.5C591.5 822.2 593.3 822.0 595.0 822.0C596.7 822.0 598.5 822.2 600.0 822.5C601.5 822.8 602.7 823.2 604.0 823.5C605.3 823.8 606.2 824.0 608.0 824.5C609.8 825.0 612.7 825.8 615.0 826.5C617.3 827.2 619.5 827.9 622.0 828.5C624.5 829.1 627.0 829.6 630.0 830.0C633.0 830.4 636.7 830.8 640.0 831.0C643.3 831.2 647.2 831.4 650.0 831.5C652.8 831.6 655.8 831.5 657.0 831.5" stroke-dasharray="1.3 3.2" stroke-width="1.25"/>
<path class="dash" d="M113.5 841.5C118.8 841.5 138.9 841.9 145.0 841.5C151.1 841.1 148.5 840.2 150.0 839.0C151.5 837.8 152.7 836.5 154.0 834.0C155.3 831.5 156.8 827.7 158.0 824.0C159.2 820.3 160.0 816.8 161.0 812.0C162.0 807.2 163.0 801.7 164.0 795.0C165.0 788.3 166.0 780.3 167.0 772.0C168.0 763.7 169.0 753.7 170.0 745.0C171.0 736.3 172.0 726.7 173.0 720.0C174.0 713.3 174.8 712.7 176.0 705.0C177.2 697.3 178.5 685.2 180.0 674.0C181.5 662.8 183.3 648.7 185.0 638.0C186.7 627.3 188.3 617.5 190.0 610.0C191.7 602.5 193.3 597.2 195.0 593.0C196.7 588.8 198.5 586.5 200.0 585.0C201.5 583.5 202.5 583.5 204.0 584.0C205.5 584.5 207.5 586.0 209.0 588.0C210.5 590.0 211.7 592.3 213.0 596.0C214.3 599.7 215.5 603.3 217.0 610.0C218.5 616.7 220.2 625.7 222.0 636.0C223.8 646.3 226.0 660.5 228.0 672.0C230.0 683.5 232.2 696.0 234.0 705.0C235.8 714.0 237.3 719.2 239.0 726.0C240.7 732.8 242.3 738.7 244.0 746.0C245.7 753.3 247.2 761.3 249.0 770.0C250.8 778.7 253.3 791.3 255.0 798.0C256.7 804.7 257.7 806.8 259.0 810.0C260.3 813.2 261.7 815.7 263.0 817.5C264.3 819.3 265.7 820.2 267.0 821.0C268.3 821.8 269.7 822.0 271.0 822.0C272.3 822.0 273.7 821.8 275.0 821.0C276.3 820.2 277.7 818.7 279.0 817.0C280.3 815.3 281.7 813.3 283.0 811.0C284.3 808.7 285.7 805.8 287.0 803.0C288.3 800.2 289.7 797.5 291.0 794.0C292.3 790.5 293.8 785.8 295.0 782.0C296.2 778.2 297.0 775.0 298.0 771.0C299.0 767.0 299.8 763.2 301.0 758.0C302.2 752.8 303.7 746.0 305.0 740.0C306.3 734.0 307.7 727.7 309.0 722.0C310.3 716.3 311.7 711.0 313.0 706.0C314.3 701.0 315.7 696.3 317.0 692.0C318.3 687.7 319.7 683.7 321.0 680.0C322.3 676.3 323.8 672.5 325.0 670.0C326.2 667.5 327.0 666.4 328.0 665.0C329.0 663.6 330.0 662.2 331.0 661.6C332.0 661.0 333.0 661.3 334.0 661.5C335.0 661.7 336.0 662.2 337.0 663.0C338.0 663.8 339.0 664.8 340.0 666.0C341.0 667.2 342.0 668.4 343.0 670.0C344.0 671.6 345.0 673.5 346.0 675.5C347.0 677.5 348.0 679.7 349.0 682.0C350.0 684.3 351.0 686.8 352.0 689.5C353.0 692.2 354.0 695.2 355.0 698.0C356.0 700.8 356.8 703.2 358.0 706.5C359.2 709.8 360.7 713.9 362.0 718.0C363.3 722.1 364.7 726.5 366.0 731.0C367.3 735.5 368.7 740.2 370.0 745.0C371.3 749.8 372.7 754.8 374.0 760.0C375.3 765.2 376.7 770.5 378.0 776.0C379.3 781.5 380.7 787.7 382.0 793.0C383.3 798.3 384.8 804.3 386.0 808.0C387.2 811.7 388.2 813.3 389.0 815.0C389.8 816.7 389.8 815.5 391.0 818.0C392.2 820.5 394.5 826.8 396.0 830.0C397.5 833.2 398.7 835.3 400.0 837.0C401.3 838.7 402.7 839.4 404.0 840.0C405.3 840.6 406.5 840.7 408.0 840.5C409.5 840.3 411.3 839.7 413.0 839.0C414.7 838.3 416.3 837.5 418.0 836.5C419.7 835.5 421.3 834.4 423.0 833.0C424.7 831.6 426.3 829.8 428.0 828.0C429.7 826.2 431.3 824.2 433.0 822.0C434.7 819.8 436.3 817.3 438.0 815.0C439.7 812.7 441.3 810.2 443.0 808.0C444.7 805.8 446.3 803.8 448.0 802.0C449.7 800.2 451.3 798.4 453.0 797.0C454.7 795.6 456.3 794.3 458.0 793.5C459.7 792.7 461.3 792.2 463.0 792.0C464.7 791.8 466.3 791.7 468.0 792.0C469.7 792.3 471.3 793.2 473.0 794.0C474.7 794.8 476.3 796.0 478.0 797.0C479.7 798.0 481.3 799.0 483.0 800.0C484.7 801.0 486.3 802.0 488.0 803.0C489.7 804.0 491.3 804.9 493.0 806.0C494.7 807.1 496.3 808.2 498.0 809.5C499.7 810.8 501.3 812.0 503.0 813.5C504.7 815.0 506.3 816.8 508.0 818.5C509.7 820.2 511.3 822.2 513.0 824.0C514.7 825.8 516.5 827.8 518.0 829.5C519.5 831.2 520.7 832.6 522.0 834.0C523.3 835.4 524.7 836.9 526.0 838.0C527.3 839.1 528.3 839.9 530.0 840.5C531.7 841.1 534.0 841.3 536.0 841.5C538.0 841.7 540.0 841.7 542.0 841.5C544.0 841.3 546.2 840.8 548.0 840.5C549.8 840.2 551.3 840.0 553.0 839.5C554.7 839.0 556.5 838.2 558.0 837.5C559.5 836.8 560.7 836.3 562.0 835.5C563.3 834.7 564.7 833.4 566.0 832.5C567.3 831.6 568.7 830.8 570.0 830.0C571.3 829.2 572.7 828.6 574.0 828.0C575.3 827.4 576.7 827.0 578.0 826.5C579.3 826.0 580.7 825.4 582.0 825.0C583.3 824.6 584.7 824.3 586.0 824.0C587.3 823.7 588.5 823.2 590.0 823.0C591.5 822.8 593.3 822.5 595.0 822.5C596.7 822.5 598.5 822.8 600.0 823.0C601.5 823.2 602.7 823.7 604.0 824.0C605.3 824.3 606.2 824.5 608.0 825.0C609.8 825.5 612.7 826.4 615.0 827.0C617.3 827.6 619.5 828.0 622.0 828.5C624.5 829.0 627.0 829.6 630.0 830.0C633.0 830.4 636.7 830.8 640.0 831.0C643.3 831.2 647.2 831.4 650.0 831.5C652.8 831.6 655.8 831.5 657.0 831.5" stroke-dasharray="8.2 6.8" stroke-dashoffset="7.35"/>
<path d="M113.5 841.5C117.9 841.5 133.6 841.6 140.0 841.5C146.4 841.4 149.2 841.2 152.0 841.0C154.8 840.8 155.7 840.8 157.0 840.0C158.3 839.2 159.2 838.3 160.0 836.0C160.8 833.7 161.3 830.3 162.0 826.0C162.7 821.7 163.0 819.3 164.0 810.0C165.0 800.7 166.7 783.3 168.0 770.0C169.3 756.7 170.8 741.3 172.0 730.0C173.2 718.7 174.0 710.3 175.0 702.0C176.0 693.7 176.8 688.7 178.0 680.0C179.2 671.3 180.8 658.3 182.0 650.0C183.2 641.7 184.2 635.0 185.0 630.0C185.8 625.0 186.2 623.8 187.0 620.0C187.8 616.2 189.2 610.0 190.0 607.0C190.8 604.0 191.2 603.2 192.0 602.0C192.8 600.8 194.2 600.1 195.0 600.0C195.8 599.9 196.3 601.0 197.0 601.5C197.7 602.0 198.2 602.8 199.0 603.0C199.8 603.2 201.2 602.6 202.0 602.5C202.8 602.4 203.3 602.3 204.0 602.4C204.7 602.5 205.3 602.7 206.0 603.0C206.7 603.3 207.3 603.3 208.0 604.0C208.7 604.7 209.3 605.7 210.0 607.0C210.7 608.3 211.2 609.3 212.0 612.0C212.8 614.7 214.2 619.7 215.0 623.0C215.8 626.3 216.2 628.2 217.0 632.0C217.8 635.8 219.2 642.0 220.0 646.0C220.8 650.0 221.2 652.0 222.0 656.0C222.8 660.0 224.0 665.3 225.0 670.0C226.0 674.7 226.7 678.2 228.0 684.0C229.3 689.8 230.8 696.7 233.0 705.0C235.2 713.3 238.3 723.2 241.0 734.0C243.7 744.8 246.7 759.8 249.0 770.0C251.3 780.2 253.5 788.7 255.0 795.0C256.5 801.3 257.0 803.8 258.0 808.0C259.0 812.2 260.2 816.7 261.0 820.0C261.8 823.3 262.2 825.9 263.0 828.0C263.8 830.1 264.7 831.2 266.0 832.5C267.3 833.8 269.5 834.9 271.0 836.0C272.5 837.1 273.8 838.2 275.0 839.0C276.2 839.8 277.0 840.5 278.0 841.0C279.0 841.5 280.0 841.8 281.0 842.0C282.0 842.2 283.2 842.3 284.0 842.0C284.8 841.7 285.3 841.0 286.0 840.0C286.7 839.0 287.3 838.0 288.0 836.0C288.7 834.0 289.3 831.3 290.0 828.0C290.7 824.7 291.3 821.0 292.0 816.0C292.7 811.0 293.5 803.3 294.0 798.0C294.5 792.7 294.5 789.0 295.0 784.0C295.5 779.0 296.3 773.7 297.0 768.0C297.7 762.3 298.2 758.0 299.0 750.0C299.8 742.0 301.0 729.2 302.0 720.0C303.0 710.8 304.2 701.7 305.0 695.0C305.8 688.3 306.2 685.0 307.0 680.0C307.8 675.0 309.2 668.8 310.0 665.0C310.8 661.2 311.2 659.2 312.0 657.0C312.8 654.8 314.2 652.8 315.0 651.5C315.8 650.2 316.2 649.7 317.0 649.0C317.8 648.3 319.2 647.8 320.0 647.5C320.8 647.2 321.3 646.9 322.0 647.0C322.7 647.1 323.3 647.5 324.0 648.0C324.7 648.5 325.3 648.8 326.0 650.0C326.7 651.2 327.3 653.0 328.0 655.0C328.7 657.0 329.3 659.5 330.0 662.0C330.7 664.5 331.3 667.0 332.0 670.0C332.7 673.0 333.2 676.7 334.0 680.0C334.8 683.3 336.2 687.3 337.0 690.0C337.8 692.7 338.2 693.6 339.0 696.0C339.8 698.4 341.0 701.8 342.0 704.5C343.0 707.2 344.0 709.8 345.0 712.0C346.0 714.2 347.0 716.3 348.0 718.0C349.0 719.7 350.0 720.9 351.0 722.0C352.0 723.1 353.0 723.8 354.0 724.5C355.0 725.2 356.0 725.8 357.0 726.0C358.0 726.2 359.2 726.1 360.0 726.0C360.8 725.9 361.3 725.2 362.0 725.5C362.7 725.8 363.2 726.6 364.0 728.0C364.8 729.4 366.0 731.5 367.0 734.0C368.0 736.5 369.0 739.7 370.0 743.0C371.0 746.3 372.0 750.3 373.0 754.0C374.0 757.7 375.0 761.0 376.0 765.0C377.0 769.0 378.0 773.7 379.0 778.0C380.0 782.3 381.0 786.3 382.0 791.0C383.0 795.7 384.2 801.8 385.0 806.0C385.8 810.2 386.3 812.7 387.0 816.0C387.7 819.3 388.3 823.2 389.0 826.0C389.7 828.8 390.3 831.2 391.0 833.0C391.7 834.8 392.2 835.8 393.0 837.0C393.8 838.2 394.7 839.3 395.5 840.0C396.3 840.7 397.1 840.9 398.0 841.0C398.9 841.1 399.8 840.8 401.0 840.5C402.2 840.2 403.7 839.5 405.0 839.0C406.3 838.5 407.7 838.0 409.0 837.5C410.3 837.0 411.7 836.6 413.0 836.0C414.3 835.4 415.7 834.7 417.0 834.0C418.3 833.3 419.7 832.9 421.0 832.0C422.3 831.1 423.7 829.8 425.0 828.5C426.3 827.2 427.7 825.9 429.0 824.0C430.3 822.1 431.7 819.3 433.0 817.0C434.3 814.7 435.7 812.2 437.0 810.0C438.3 807.8 439.7 805.8 441.0 804.0C442.3 802.2 443.7 800.5 445.0 799.0C446.3 797.5 447.7 796.2 449.0 795.0C450.3 793.8 451.7 792.8 453.0 792.0C454.3 791.2 455.7 790.8 457.0 790.5C458.3 790.2 459.7 789.9 461.0 790.0C462.3 790.1 463.7 790.5 465.0 791.0C466.3 791.5 467.7 792.2 469.0 793.0C470.3 793.8 471.7 795.0 473.0 796.0C474.3 797.0 475.7 798.0 477.0 799.0C478.3 800.0 479.7 801.2 481.0 802.0C482.3 802.8 483.8 803.5 485.0 804.0C486.2 804.5 486.7 804.4 488.0 805.0C489.3 805.6 491.3 806.7 493.0 807.5C494.7 808.3 496.3 808.9 498.0 810.0C499.7 811.1 501.3 812.5 503.0 814.0C504.7 815.5 506.3 817.2 508.0 819.0C509.7 820.8 511.3 822.7 513.0 824.5C514.7 826.3 516.5 828.2 518.0 830.0C519.5 831.8 520.7 833.5 522.0 835.0C523.3 836.5 524.7 838.0 526.0 839.0C527.3 840.0 528.3 840.5 530.0 841.0C531.7 841.5 534.0 841.8 536.0 842.0C538.0 842.2 540.0 842.2 542.0 842.0C544.0 841.8 546.2 841.3 548.0 841.0C549.8 840.7 551.3 840.5 553.0 840.0C554.7 839.5 556.5 838.7 558.0 838.0C559.5 837.3 560.7 836.8 562.0 836.0C563.3 835.2 564.7 833.9 566.0 833.0C567.3 832.1 568.7 831.3 570.0 830.5C571.3 829.7 572.7 828.7 574.0 828.0C575.3 827.3 576.7 827.0 578.0 826.5C579.3 826.0 580.7 825.5 582.0 825.0C583.3 824.5 584.7 824.0 586.0 823.5C587.3 823.0 588.5 822.3 590.0 822.0C591.5 821.7 593.3 821.5 595.0 821.5C596.7 821.5 598.5 821.8 600.0 822.0C601.5 822.2 602.7 822.7 604.0 823.0C605.3 823.3 606.2 823.5 608.0 824.0C609.8 824.5 612.7 825.3 615.0 826.0C617.3 826.7 619.5 827.4 622.0 828.0C624.5 828.6 627.0 829.1 630.0 829.5C633.0 829.9 636.7 830.2 640.0 830.5C643.3 830.8 647.2 830.9 650.0 831.0C652.8 831.1 655.8 831.0 657.0 831.0"/>
</g>
<path d="M110.6 297.4h0M110.0 301.0h0M109.6 304.4h0M114.4 307.0h0M116.0 306.0h0M114.4 310.0h0M115.4 313.0h0M120.0 312.0h0M121.0 315.0h0M124.4 311.0h0M125.0 318.6h0M125.6 323.6h0M130.0 337.6h0M130.0 353.6h0M135.4 331.4h0M141.0 336.0h0M140.6 344.6h0M139.4 346.6h0M145.6 341.6h0M144.8 350.2h0M149.0 327.4h0M150.6 325.0h0M150.0 332.0h0M154.4 317.0h0M155.4 319.4h0M154.4 323.0h0M160.0 325.6h0M160.0 331.0h0M159.6 334.6h0M164.4 304.0h0M165.0 293.6h0M165.6 288.6h0M169.4 263.6h0M170.0 258.6h0M170.4 241.0h0M174.4 216.6h0M174.6 202.0h0M175.4 193.6h0M179.4 167.0h0M180.0 163.6h0M180.8 148.0h0M184.2 126.6h0M184.6 119.6h0M185.4 88.0h0M189.3 84.0h0M190.4 75.6h0M194.0 71.7h0M194.6 76.6h0M198.8 57.6h0M200.5 59.4h0M199.8 75.5h0M204.8 91.4h0M204.4 98.4h0M205.4 103.8h0M208.8 86.0h0M210.1 96.8h0M215.4 122.6h0M214.6 126.6h0M214.0 135.4h0M219.6 192.0h0M220.6 197.0h0M218.8 204.4h0M224.4 211.0h0M225.1 72.1h0M230.3 225.0h0M229.6 235.6h0M224.0 241.0h0M228.6 240.6h0M235.0 265.6h0M234.4 270.6h0M245.0 216.4h0M249.0 216.4h0M249.4 220.0h0M244.4 237.6h0M240.0 253.0h0M243.6 251.6h0M239.4 263.6h0M254.6 260.6h0M254.4 265.6h0M259.6 268.6h0M259.0 276.0h0M258.6 279.6h0M263.6 286.6h0M264.4 290.6h0M269.0 309.0h0M268.6 313.0h0M268.0 317.0h0M274.0 309.0h0M274.4 313.0h0M273.4 321.6h0M279.4 309.6h0M284.6 323.6h0M284.0 329.0h0M283.4 332.6h0M289.4 308.0h0M288.6 314.0h0M293.6 298.0h0M295.0 288.6h0M298.6 288.0h0M299.4 272.6h0M298.6 278.0h0M303.4 219.4h0M304.6 222.4h0M304.6 228.4h0M308.6 215.0h0M309.0 198.0h0M310.0 196.0h0M313.0 205.6h0M314.4 179.0h0M314.0 191.0h0M319.0 186.0h0M318.6 190.0h0M324.0 186.4h0M323.6 199.0h0M323.0 202.0h0M328.4 198.0h0M328.0 202.0h0M333.6 218.0h0M335.0 220.6h0M338.6 222.0h0M339.0 212.0h0M340.0 210.0h0M343.0 223.0h0M343.6 218.0h0M344.4 211.0h0M348.6 167.0h0M349.0 186.4h0M348.0 193.6h0M354.0 211.0h0M353.4 217.0h0M353.0 220.4h0M359.0 234.0h0M358.0 239.0h0M363.4 257.0h0M362.6 263.6h0M368.6 265.6h0M370.0 272.0h0M368.0 276.0h0M373.6 271.0h0M373.0 276.0h0M379.0 278.0h0M378.6 287.0h0M384.0 283.0h0M383.0 288.0h0M383.4 292.0h0M388.6 306.0h0M387.4 309.6h0M388.4 314.6h0M394.0 315.0h0M393.6 322.0h0M392.6 327.0h0M398.0 320.0h0M397.4 323.0h0M403.6 324.4h0M403.6 328.0h0M402.6 334.4h0M408.6 324.0h0M407.6 328.6h0M413.6 327.0h0M413.0 334.4h0M412.6 350.0h0M418.4 337.0h0M423.4 316.6h0M423.0 352.0h0M422.6 362.4h0M428.0 324.0h0M427.4 332.4h0M428.6 309.6h0M433.6 302.4h0M433.0 309.0h0M438.0 304.0h0M437.6 309.6h0M443.0 297.6h0M442.6 304.0h0M447.6 297.6h0M447.0 306.0h0M447.4 309.6h0M453.4 288.0h0M453.0 295.6h0M452.4 302.4h0M458.0 317.0h0M458.0 302.0h0M463.4 288.0h0M463.0 294.0h0M462.6 297.0h0M468.4 283.0h0M467.6 294.0h0M473.4 276.0h0M472.6 281.0h0M477.6 288.6h0M477.0 293.6h0M482.6 299.0h0M482.0 306.0h0M483.0 288.0h0M488.4 272.4h0M487.4 280.0h0M487.0 283.0h0M493.0 285.0h0M492.4 295.0h0M491.6 298.6h0M498.0 298.6h0M497.4 306.0h0M497.0 308.0h0M503.0 297.4h0M502.4 308.0h0M502.0 315.0h0M508.0 290.4h0M507.4 304.4h0M513.0 295.6h0M512.4 308.0h0M518.0 306.0h0M517.4 311.0h0M516.6 315.0h0M522.6 315.0h0M522.4 327.0h0M521.6 331.0h0M528.0 313.4h0M527.6 322.0h0M527.0 331.0h0M533.0 320.0h0M532.4 332.0h0M531.6 338.0h0M538.0 325.6h0M537.4 341.0h0M536.6 345.0h0M543.0 325.6h0M542.4 342.0h0M541.6 346.6h0M547.6 334.4h0M547.0 347.0h0M546.4 352.4h0M552.6 336.0h0M552.0 364.4h0M551.4 368.0h0M557.6 344.4h0M556.6 349.0h0M557.0 355.0h0M562.4 338.0h0M562.0 348.4h0M561.6 357.6h0M567.4 330.0h0M567.0 333.6h0M572.0 326.0h0M570.4 330.0h0M572.4 313.4h0M577.6 315.0h0M577.0 335.0h0M582.0 336.0h0M581.4 339.6h0M582.6 359.0h0M587.0 318.6h0M586.6 322.0h0M587.6 302.6h0M591.4 329.0h0M592.4 293.6h0M592.4 276.0h0M597.4 267.4h0M597.0 290.4h0M596.4 294.0h0M602.4 297.4h0M601.6 319.0h0M607.4 295.6h0M606.4 315.6h0M617.4 293.6h0M616.6 313.0h0M617.0 316.6h0M622.4 295.6h0M621.6 316.6h0M627.4 276.0h0M627.0 295.6h0M626.4 305.6h0M632.4 295.6h0M631.4 302.6h0M636.6 343.0h0M636.2 344.6h0M637.4 357.4h0M641.6 311.0h0M641.0 322.0h0M642.4 339.4h0M646.6 306.0h0M646.0 313.4h0M647.4 348.4h0M651.4 325.6h0M652.0 380.0h0M657.0 318.6h0M656.4 327.0h0M656.0 339.6h0M662.0 329.0h0M661.6 337.6h0M661.0 362.4h0" stroke="#222" stroke-width="5.8" stroke-linecap="round" fill="none"/>
<path d="M114.0 825.4h0M115.2 836.0h0M116.4 839.0h0M117.6 842.4h0M120.1 842.4h0M122.6 842.4h0M125.0 842.4h0M127.5 842.4h0M130.0 842.4h0M132.5 842.4h0M135.0 842.4h0M137.4 842.4h0M139.9 842.4h0M142.4 842.4h0M144.9 842.4h0M147.4 842.4h0M149.8 841.9h0M152.3 841.2h0M154.8 840.5h0M157.3 839.8h0M159.8 839.2h0M162.2 838.5h0M166.6 824.6h0M165.0 831.6h0M170.0 755.0h0M168.6 744.4h0M172.0 735.6h0M173.6 688.6h0M176.6 669.0h0M179.0 663.4h0M181.4 671.0h0M183.6 672.6h0M186.6 661.0h0M185.0 653.4h0M180.0 645.4h0M175.0 634.6h0M193.4 635.0h0M208.0 637.0h0M221.0 638.0h0M229.4 647.4h0M226.4 650.0h0M223.0 655.0h0M224.4 657.6h0M219.4 617.0h0M198.4 614.0h0M203.4 613.4h0M188.4 611.4h0M215.0 611.4h0M206.4 609.0h0M199.6 605.4h0M216.6 602.0h0M191.6 600.6h0M209.4 600.0h0M213.0 590.4h0M196.6 579.0h0M195.4 582.4h0M201.4 570.0h0M189.6 563.4h0M204.6 560.0h0M211.4 542.4h0M231.0 709.4h0M246.6 725.6h0M247.6 737.0h0M252.6 756.0h0M249.4 761.0h0M254.4 772.6h0M251.0 780.0h0M262.6 797.6h0M266.0 803.6h0M271.0 809.0h0M267.6 813.0h0M256.0 816.0h0M260.0 817.0h0M264.0 817.4h0M269.0 817.0h0M257.6 821.6h0M274.4 821.6h0M273.0 825.0h0M276.0 826.0h0M277.6 829.0h0M279.6 837.0h0M283.0 836.4h0M286.0 838.0h0M289.4 837.4h0M292.4 828.0h0M294.0 815.4h0M299.0 792.4h0M295.6 779.4h0M297.6 761.4h0M300.6 680.0h0M303.6 697.6h0M302.4 715.4h0M323.6 632.0h0M330.6 634.6h0M332.0 637.4h0M333.6 641.6h0M322.0 649.0h0M328.6 651.6h0M335.6 686.6h0M340.6 684.6h0M341.6 687.6h0M345.0 687.6h0M356.6 692.4h0M347.0 696.4h0M349.0 702.0h0M343.6 706.0h0M337.6 708.0h0M338.6 710.0h0M353.6 704.0h0M357.0 706.6h0M360.0 708.0h0M362.0 711.4h0M355.0 704.0h0M367.1 686.7h0M364.0 723.0h0M368.6 737.4h0M370.0 743.0h0M373.0 745.6h0M372.0 751.0h0M375.6 767.6h0M376.6 771.0h0M379.4 770.0h0M381.4 779.6h0M383.0 795.0h0M385.0 818.6h0M386.4 830.4h0M388.0 837.6h0M390.0 840.0h0M393.0 841.6h0M396.0 842.6h0M401.0 837.0h0M400.0 840.0h0M404.0 839.0h0M407.4 841.0h0M410.6 832.0h0M413.0 837.6h0M415.6 828.6h0M418.0 839.0h0M420.0 828.0h0M419.4 832.0h0M423.0 838.0h0M425.0 830.0h0M424.4 833.6h0M428.0 835.0h0M429.4 823.6h0M432.6 828.0h0M431.4 816.6h0M435.0 817.0h0M438.0 819.0h0M436.4 811.6h0M439.4 805.6h0M441.6 803.6h0M443.0 794.0h0M445.0 795.6h0M446.0 804.6h0M448.0 807.6h0M450.0 795.0h0M451.0 798.0h0M452.4 805.4h0M454.0 783.0h0M455.6 781.0h0M457.6 803.6h0M459.4 766.0h0M461.0 776.0h0M464.0 780.0h0M462.6 799.0h0M466.0 788.6h0M468.0 790.0h0M467.4 804.4h0M471.0 787.4h0M472.4 801.0h0M475.0 788.0h0M477.4 806.0h0M480.6 808.4h0M480.0 800.0h0M485.0 792.0h0M483.0 794.0h0M487.4 799.0h0M481.0 808.0h0M495.6 804.4h0M493.0 807.0h0M494.0 809.4h0M499.6 809.4h0M498.0 814.0h0M502.0 815.0h0M503.0 811.0h0M505.4 812.0h0M508.0 818.6h0M510.0 821.4h0M524.4 831.0h0M525.4 834.4h0M527.0 840.0h0M530.4 841.0h0M533.0 842.0h0M536.0 842.4h0M539.0 841.6h0M542.0 840.4h0M544.0 839.0h0M547.0 841.4h0M549.0 838.4h0M552.0 840.4h0M554.0 838.4h0M557.0 841.0h0M558.6 833.6h0M561.0 839.0h0M563.0 837.0h0M566.0 836.6h0M569.0 827.0h0M571.0 826.0h0M574.0 819.0h0M578.6 818.0h0M577.0 828.0h0M580.0 821.0h0M582.0 829.4h0M585.0 827.6h0M587.0 825.0h0M588.6 822.0h0M590.0 820.0h0M591.4 822.0h0M604.4 812.4h0M603.0 816.0h0M601.6 821.0h0M608.0 819.0h0M606.6 829.0h0M611.0 829.4h0M614.0 828.0h0M616.0 830.6h0M619.0 828.6h0M621.0 833.0h0M623.0 827.6h0M625.0 832.0h0M627.6 827.0h0M628.0 831.0h0M629.4 819.6h0M631.0 832.0h0M634.0 828.6h0M636.0 836.0h0M638.0 833.0h0M641.0 835.6h0M643.6 829.0h0M646.0 830.0h0M648.0 831.6h0M651.0 834.4h0M654.0 833.6h0M656.0 833.0h0" stroke="#222" stroke-width="5.8" stroke-linecap="round" fill="none"/>
<g fill="none" stroke="#222" stroke-width="1">
<path d="M411 89.5H457.8" stroke-dasharray="6.6 4.35" stroke-dashoffset="3"/>
<path d="M411.3 107.5H461" stroke-dasharray="1.2 3.6" stroke-width="1.1"/>
<path d="M411.3 125.5H460.6"/>
</g>
<g fill="none" stroke="#222" stroke-width="1">
<path d="M411 574.5H457.8" stroke-dasharray="6.6 4.35" stroke-dashoffset="3"/>
<path d="M411.3 594.0H461" stroke-dasharray="1.8 3.0" stroke-width="1"/>
<path d="M411.3 613.5H460.6"/>
</g>
</svg>
<div style="position:absolute;font-size:20.4px;line-height:1;white-space:nowrap;top:-3.1px;left:387.4px;transform:translateX(-50%);">Sun 1996 July-September, 10.7cm DRAO data</div>
<div style="position:absolute;font-size:20.4px;line-height:1;white-space:nowrap;top:477.3px;left:387.4px;transform:translateX(-50%);">Sun 1996 July-September, GOES9 satellite data</div>
<div style="position:absolute;font-size:20px;line-height:1;white-space:nowrap;top:399.1px;left:113.5px;transform:translateX(-50%);">50280</div>
<div style="position:absolute;font-size:20px;line-height:1;white-space:nowrap;top:880.1px;left:113.5px;transform:translateX(-50%);">50280</div>
<div style="position:absolute;font-size:20px;line-height:1;white-space:nowrap;top:399.1px;left:212.8px;transform:translateX(-50%);">50300</div>
<div style="position:absolute;font-size:20px;line-height:1;white-space:nowrap;top:880.1px;left:212.8px;transform:translateX(-50%);">50300</div>
<div style="position:absolute;font-size:20px;line-height:1;white-space:nowrap;top:399.1px;left:312.0px;transform:translateX(-50%);">50320</div>
<div style="position:absolute;font-size:20px;line-height:1;white-space:nowrap;top:880.1px;left:312.0px;transform:translateX(-50%);">50320</div>
<div style="position:absolute;font-size:20px;line-height:1;white-space:nowrap;top:399.1px;left:411.3px;transform:translateX(-50%);">50340</div>
<div style="position:absolute;font-size:20px;line-height:1;white-space:nowrap;top:880.1px;left:411.3px;transform:translateX(-50%);">50340</div>
<div style="position:absolute;font-size:20px;line-height:1;white-space:nowrap;top:399.1px;left:510.5px;transform:translateX(-50%);">50360</div>
<div style="position:absolute;font-size:20px;line-height:1;white-space:nowrap;top:880.1px;left:510.5px;transform:translateX(-50%);">50360</div>
<div style="position:absolute;font-size:20px;line-height:1;white-space:nowrap;top:399.1px;left:609.8px;transform:translateX(-50%);">50380</div>
<div style="position:absolute;font-size:20px;line-height:1;white-space:nowrap;top:880.1px;left:609.8px;transform:translateX(-50%);">50380</div>
<div style="position:absolute;font-size:20px;line-height:1;white-space:nowrap;top:429.1px;left:386.5px;transform:translateX(-50%);">J.D.</div>
<div style="position:absolute;font-size:20px;line-height:1;white-space:nowrap;top:909.4px;left:386.5px;transform:translateX(-50%);">J.D.</div>
<div style="position:absolute;font-size:20px;line-height:1;white-space:nowrap;top:379.1px;right:605.5px;">65</div>
<div style="position:absolute;font-size:20px;line-height:1;white-space:nowrap;top:291.1px;right:605.5px;">70</div>
<div style="position:absolute;font-size:20px;line-height:1;white-space:nowrap;top:203.1px;right:605.5px;">75</div>
<div style="position:absolute;font-size:20px;line-height:1;white-space:nowrap;top:115.1px;right:605.5px;">80</div>
<div style="position:absolute;font-size:20px;line-height:1;white-space:nowrap;top:27.1px;right:605.5px;">85</div>
<div style="position:absolute;font-size:20px;line-height:1;white-space:nowrap;top:845.9px;right:605.5px;">0</div>
<div style="position:absolute;font-size:20px;line-height:1;white-space:nowrap;top:789.5px;right:605.5px;">2</div>
<div style="position:absolute;font-size:20px;line-height:1;white-space:nowrap;top:733.1px;right:605.5px;">4</div>
<div style="position:absolute;font-size:20px;line-height:1;white-space:nowrap;top:676.7px;right:605.5px;">6</div>
<div style="position:absolute;font-size:20px;line-height:1;white-space:nowrap;top:620.3px;right:605.5px;">8</div>
<div style="position:absolute;font-size:20px;line-height:1;white-space:nowrap;top:563.9px;right:605.5px;">10</div>
<div style="position:absolute;font-size:20px;line-height:1;white-space:nowrap;top:507.5px;right:605.5px;">12</div>
<div style="position:absolute;font-size:16.2px;line-height:1;white-space:nowrap;top:81.2px;left:485.8px;">one-spot fit</div>
<div style="position:absolute;font-size:16.2px;line-height:1;white-space:nowrap;top:566.2px;left:485.8px;">one-spot fit</div>
<div style="position:absolute;font-size:16.2px;line-height:1;white-space:nowrap;top:99.1px;left:485.8px;">two-equatorial-spot fit</div>
<div style="position:absolute;font-size:16.2px;line-height:1;white-space:nowrap;top:585.7px;left:485.8px;">two-equatorial-spot fit</div>
<div style="position:absolute;font-size:16.2px;line-height:1;white-space:nowrap;top:117.1px;left:485.8px;">two-spot fit</div>
<div style="position:absolute;font-size:16.2px;line-height:1;white-space:nowrap;top:605.2px;left:485.8px;">two-spot fit</div>
<svg width="60" height="926" viewBox="0 0 60 926" style="position:absolute;left:0;top:0;overflow:visible" font-family="Liberation Sans, sans-serif" fill="#333"><text transform="translate(22.00 266.80) rotate(-90) scale(1.000 1)" font-size="20">1</text><text transform="translate(22.00 255.20) rotate(-90) scale(1.000 1)" font-size="20">0</text><text transform="translate(10.50 242.20) rotate(-90) scale(1.000 1)" font-size="13.5">4</text><text transform="translate(22.00 223.80) rotate(-90) scale(1.000 1)" font-size="20.7">Jansky</text></svg>
<svg width="60" height="926" viewBox="0 0 60 926" style="position:absolute;left:0;top:0;overflow:visible" font-family="Liberation Sans, sans-serif" fill="#333"><text transform="translate(21.80 735.30) rotate(-90) scale(0.730 1)" font-size="20">W</text><text transform="translate(21.80 720.50) rotate(-90) scale(1.120 1)" font-size="20">m</text><text transform="translate(10.30 701.10) rotate(-90) scale(0.750 1)" font-size="13.5">&#8722;</text><text transform="translate(10.30 692.10) rotate(-90) scale(1.000 1)" font-size="13.5">2</text><text transform="translate(21.80 682.50) rotate(-90) scale(1.000 1)" font-size="20">1</text><text transform="translate(21.80 671.00) rotate(-90) scale(1.000 1)" font-size="20">0</text><text transform="translate(10.30 658.80) rotate(-90) scale(1.000 1)" font-size="13.5">8</text></svg>
</div></body></html>
